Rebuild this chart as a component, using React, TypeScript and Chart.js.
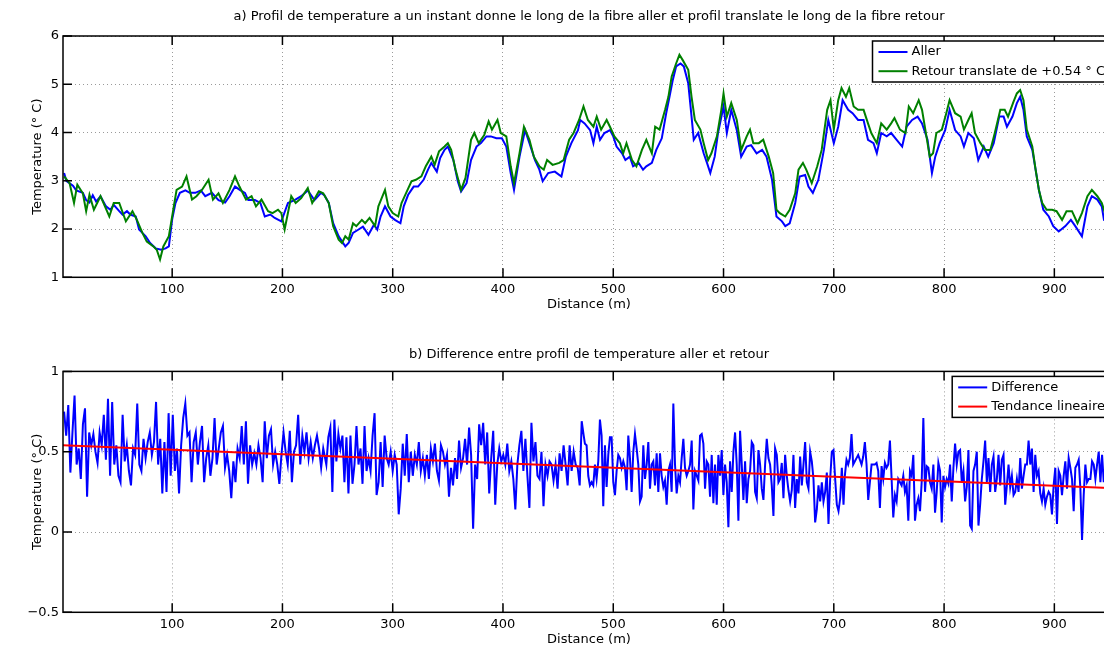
import React, { useEffect, useRef } from "react";
import { Chart, registerables } from "chart.js";

Chart.register(...registerables);

const FONT_FAMILY = '"DejaVu Sans", "Liberation Sans", sans-serif';
Chart.defaults.font.family = FONT_FAMILY;
Chart.defaults.font.size = 13;
Chart.defaults.color = "#000";

const titleTop =
  "a) Profil de temperature a un instant donne le long de la fibre aller et profil translate le long de la fibre retour";
const titleBottom = "b) Difference entre profil de temperature aller et retour";
const xAxisLabel = "Distance (m)";
const yAxisLabel = "Temperature (° C)";
const legendTop = ["Aller", "Retour translate de +0.54 ° C"];
const legendBottom = ["Difference", "Tendance lineaire"];
const colorsTop = ["#0000ff", "#008000"];
const colorsBottom = ["#0000ff", "#ff0000"];

const xRange = [1, 955];
const xTicks = [100, 200, 300, 400, 500, 600, 700, 800, 900];
const yTicksTop = [1, 2, 3, 4, 5, 6];
const yTicksBottom = [-0.5, 0, 0.5, 1];

// a) Aller profile
const allerX = [
  2, 4, 10, 13, 19, 22, 25, 28, 31, 35, 40, 44, 47, 52, 55, 59, 62, 67, 70, 73,
  76, 80, 85, 90, 94, 97, 100, 103, 107, 112, 116, 121, 126, 130, 136, 142, 148, 152, 157, 162,
  166, 169, 175, 180, 184, 189, 193, 199, 205, 211, 217, 223, 229, 235,
  238, 242, 246, 251, 257, 260, 264, 269, 273, 278, 283, 286, 289, 293, 298, 302, 307, 310, 314, 319,
  323, 328, 332, 335, 340, 343, 347, 350, 355, 359, 362, 367, 371, 376, 380, 385, 389, 394, 399, 403,
  407, 410, 415, 420, 424, 429, 433, 436, 441, 447, 453, 457, 462, 468,
  470, 474, 479, 482, 485, 488, 492, 497, 500, 503, 508, 511, 515, 518, 523, 527, 530, 535, 539, 544,
  548, 551, 554, 557, 561, 564, 568, 571, 573, 577, 582, 585, 588, 592, 595, 600, 603, 607, 612, 616,
  621, 625, 630, 635, 639, 644, 648, 653, 656, 660, 665, 669, 674, 677, 681, 686, 691, 695, 700, 704,
  708, 713, 717, 722, 727, 731, 736, 739, 743, 748, 752, 757, 762, 766, 771, 776, 780, 785, 789, 792,
  796, 801, 805, 810, 815, 818, 822, 827, 831, 836, 840, 845, 850, 854, 857, 862, 866, 869, 872, 875,
  880, 883, 886, 890, 895, 899, 904, 910, 915, 919, 925, 930, 934, 939, 943, 945, 950, 954,
];
const allerT = [
  3.16, 3.0, 2.9, 2.8, 2.75, 2.6, 2.55, 2.7, 2.57, 2.68, 2.47, 2.4, 2.5, 2.37, 2.3, 2.37, 2.3, 2.26, 1.99, 1.92,
  1.85, 1.71, 1.6, 1.57, 1.6, 1.64, 2.2, 2.54, 2.75, 2.8, 2.75, 2.75, 2.8, 2.68, 2.75, 2.6, 2.55, 2.68, 2.88, 2.8,
  2.75, 2.6, 2.6, 2.54, 2.26, 2.3, 2.23, 2.16, 2.54, 2.6, 2.68, 2.8, 2.6, 2.75,
  2.7, 2.54, 2.12, 1.85, 1.64, 1.71, 1.92, 1.99, 2.05, 1.88, 2.09, 1.99, 2.26, 2.47, 2.26, 2.19, 2.12, 2.47, 2.71, 2.88,
  2.88, 3.02, 3.23, 3.37, 3.19, 3.47, 3.64, 3.71, 3.43, 2.99, 2.78, 2.95, 3.43, 3.71, 3.78, 3.92, 3.92, 3.88, 3.88, 3.71,
  3.16, 2.81, 3.5, 4.05, 3.78, 3.43, 3.23, 2.99, 3.16, 3.19, 3.09, 3.5, 3.78, 4.05,
  4.26, 4.19, 4.05, 3.78, 4.12, 3.85, 3.99, 4.05, 3.92, 3.71, 3.57, 3.43, 3.5, 3.3, 3.37, 3.23, 3.3, 3.37, 3.64, 3.88,
  4.4, 4.74, 5.09, 5.37, 5.43, 5.37, 5.02, 4.33, 3.85, 3.99, 3.57, 3.37, 3.16, 3.5, 3.99, 4.54, 3.99, 4.47, 4.05, 3.5,
  3.71, 3.74, 3.57, 3.64, 3.5, 3.02, 2.26, 2.16, 2.06, 2.12, 2.54, 3.09, 3.12, 2.88, 2.75, 3.02, 3.64, 4.26, 3.78, 4.12,
  4.67, 4.47, 4.4, 4.26, 4.26, 3.85, 3.78, 3.57, 3.99, 3.92, 3.99, 3.85, 3.71, 4.12, 4.26, 4.33, 4.19, 3.85, 3.16, 3.5,
  3.78, 4.05, 4.47, 4.05, 3.92, 3.71, 3.99, 3.88, 3.43, 3.71, 3.5, 3.78, 4.33, 4.33, 4.12, 4.33, 4.61, 4.74, 4.47, 3.92,
  3.64, 3.23, 2.81, 2.4, 2.26, 2.06, 1.95, 2.06, 2.19, 2.06, 1.85, 2.47, 2.68, 2.61, 2.47, 2.19, 2.1, 2.05,
];

// a) Retour profile, translated by +0.54 °C
const retourX = [
  2, 7, 11, 14, 19, 22, 25, 29, 35, 43, 47, 52, 58, 64, 68, 73, 77, 83, 86, 89,
  92, 97, 101, 104, 109, 113, 118, 122, 127, 133, 137, 142, 146, 152, 157, 161, 167, 172, 176, 181,
  187, 191, 196, 199, 202, 208, 212, 217, 223, 227, 233,
  237, 242, 246, 251, 254, 257, 260, 264, 267, 272, 275, 279, 284, 287, 293, 296, 300, 305, 308, 312,
  317, 321, 326, 330, 335, 338, 342, 347, 350, 353, 357, 362, 366, 371, 374, 378, 383, 387, 390, 395,
  398, 403, 407, 410, 415, 419, 424, 428, 433, 437, 440, 445, 451, 455, 460, 464, 469, 473,
  477, 482, 485, 489, 494, 497, 501, 506, 509, 512, 517, 521, 526, 530, 535, 538, 542, 547, 550, 553,
  557, 560, 563, 568, 571, 574, 579, 582, 586, 589, 594, 598, 600, 603, 607, 612, 616, 621, 624, 627,
  632, 636, 641, 645, 648, 651, 656, 660, 665, 668, 672, 675, 680, 685, 689, 694, 697, 700, 704, 707,
  711, 714, 718, 722, 727, 731, 734, 739, 743, 748, 752, 755, 760, 765, 768, 772, 777, 780, 783, 787,
  790, 793, 798, 802, 805, 810, 815, 818, 822, 825, 828, 833, 837, 842, 846, 851, 855, 858, 863, 866,
  869, 872, 875, 880, 883, 886, 889, 893, 898, 902, 907, 911, 916, 921, 925, 930, 934, 939, 943, 946,
  950, 955,
];
const retourT = [
  3.09, 2.95, 2.54, 2.92, 2.74, 2.37, 2.71, 2.4, 2.68, 2.26, 2.54, 2.54, 2.16, 2.37, 2.19, 1.92, 1.74, 1.64, 1.57, 1.37,
  1.64, 1.85, 2.4, 2.81, 2.88, 3.09, 2.61, 2.68, 2.81, 3.02, 2.61, 2.74, 2.54, 2.81, 3.09, 2.88, 2.61, 2.68, 2.47, 2.61,
  2.37, 2.33, 2.4, 2.33, 1.99, 2.68, 2.54, 2.64, 2.85, 2.54, 2.78,
  2.74, 2.54, 2.06, 1.78, 1.71, 1.85, 1.78, 2.12, 2.06, 2.19, 2.12, 2.23, 2.06, 2.47, 2.81, 2.47, 2.33, 2.26, 2.54, 2.74,
  2.99, 3.02, 3.09, 3.3, 3.5, 3.33, 3.61, 3.71, 3.78, 3.64, 3.23, 2.81, 3.06, 3.85, 3.99, 3.78, 3.95, 4.23, 4.06, 4.26,
  3.99, 3.92, 3.3, 2.95, 3.57, 4.12, 3.85, 3.5, 3.3, 3.23, 3.43, 3.33, 3.37, 3.43, 3.85, 3.99, 4.26, 4.54,
  4.26, 4.12, 4.33, 4.06, 4.26, 4.12, 3.92, 3.78, 3.57, 3.78, 3.43, 3.3, 3.64, 3.85, 3.57, 4.12, 4.06, 4.47, 4.74, 5.16,
  5.43, 5.61, 5.5, 5.3, 4.74, 4.26, 4.06, 3.78, 3.43, 3.57, 3.92, 4.47, 4.81, 4.33, 4.61, 4.26, 3.64, 3.92, 4.06, 3.78,
  3.78, 3.85, 3.5, 3.16, 2.4, 2.33, 2.26, 2.4, 2.74, 3.23, 3.37, 3.23, 2.95, 3.3, 3.64, 4.47, 4.67, 4.06, 4.67, 4.92,
  4.74, 4.92, 4.54, 4.47, 4.47, 4.19, 3.99, 3.78, 4.19, 4.06, 4.19, 4.3, 4.06, 3.99, 4.54, 4.4, 4.67, 4.47, 4.06, 3.5,
  3.57, 3.99, 4.06, 4.4, 4.67, 4.4, 4.33, 4.06, 4.26, 4.4, 3.99, 3.78, 3.64, 3.64, 3.99, 4.47, 4.47, 4.33, 4.64, 4.81,
  4.88, 4.67, 4.06, 3.71, 3.23, 2.81, 2.54, 2.4, 2.4, 2.37, 2.19, 2.37, 2.37, 2.12, 2.33, 2.68, 2.81, 2.68, 2.54, 2.33,
  2.25, 2.2,
];

// b) Difference aller - retour, sampled evenly within each distance range
const diffRanges = [
  [2, 237],
  [239.8, 473.2],
  [474.3, 708.8],
  [710, 944.8],
  [946.5, 955],
];
const diffA = [
  0.75, 0.6, 0.79, 0.37, 0.62, 0.85, 0.42, 0.52, 0.33, 0.67,
  0.77, 0.22, 0.62, 0.54, 0.61, 0.5, 0.43, 0.62, 0.54, 0.73,
  0.45, 0.83, 0.35, 0.81, 0.42, 0.54, 0.35, 0.31, 0.73, 0.44,
  0.54, 0.38, 0.29, 0.52, 0.48, 0.8, 0.42, 0.38, 0.58, 0.46,
  0.56, 0.62, 0.48, 0.56, 0.81, 0.42, 0.58, 0.24, 0.56, 0.25,
  0.74, 0.35, 0.73, 0.38, 0.52, 0.24, 0.54, 0.71, 0.8, 0.6,
  0.62, 0.31, 0.56, 0.62, 0.42, 0.56, 0.66, 0.31, 0.46, 0.54,
  0.35, 0.46, 0.71, 0.42, 0.52, 0.62, 0.66, 0.4, 0.48, 0.38,
  0.21, 0.44, 0.31, 0.52, 0.46, 0.66, 0.42, 0.69, 0.3, 0.54,
  0.42, 0.49, 0.42, 0.54, 0.46, 0.31, 0.69, 0.46, 0.6, 0.64,
  0.42, 0.5, 0.42, 0.3, 0.48, 0.62, 0.5, 0.42, 0.63, 0.31,
  0.5, 0.54, 0.73, 0.42, 0.6, 0.5, 0.62, 0.46, 0.56, 0.46,
  0.54, 0.6, 0.52, 0.4, 0.52,
];
const diffB = [
  0.42, 0.59, 0.65, 0.25, 0.7, 0.44, 0.61, 0.52, 0.6, 0.31,
  0.59, 0.24, 0.6, 0.3, 0.42, 0.66, 0.42, 0.52, 0.3, 0.66,
  0.38, 0.46, 0.38, 0.6, 0.74, 0.23, 0.31, 0.56, 0.28, 0.6,
  0.46, 0.42, 0.5, 0.38, 0.48, 0.42, 0.11, 0.27, 0.55, 0.35,
  0.61, 0.31, 0.5, 0.35, 0.48, 0.42, 0.56, 0.38, 0.46, 0.35,
  0.48, 0.33, 0.52, 0.44, 0.55, 0.38, 0.32, 0.54, 0.5, 0.42,
  0.48, 0.22, 0.4, 0.29, 0.46, 0.33, 0.57, 0.4, 0.46, 0.58,
  0.42, 0.65, 0.48, 0.02, 0.42, 0.33, 0.67, 0.54, 0.68, 0.42,
  0.62, 0.24, 0.46, 0.63, 0.17, 0.42, 0.52, 0.44, 0.48, 0.42,
  0.55, 0.38, 0.44, 0.33, 0.14, 0.42, 0.54, 0.63, 0.38, 0.58,
  0.35, 0.15, 0.68, 0.44, 0.56, 0.35, 0.33, 0.5, 0.16, 0.42,
  0.35, 0.44, 0.42, 0.32, 0.42, 0.27, 0.49, 0.38, 0.54, 0.42,
  0.29, 0.54, 0.38, 0.5, 0.42, 0.4, 0.29, 0.69, 0.6,
];
const diffC = [
  0.55, 0.54, 0.35, 0.29, 0.31, 0.29, 0.42, 0.33, 0.44, 0.7,
  0.6, 0.16, 0.54, 0.28, 0.48, 0.59, 0.59, 0.31, 0.23, 0.38,
  0.48, 0.46, 0.4, 0.44, 0.4, 0.26, 0.6, 0.46, 0.25, 0.5,
  0.61, 0.52, 0.42, 0.19, 0.22, 0.54, 0.33, 0.42, 0.56, 0.27,
  0.42, 0.44, 0.29, 0.49, 0.25, 0.49, 0.35, 0.28, 0.32, 0.17,
  0.38, 0.42, 0.25, 0.8, 0.42, 0.24, 0.35, 0.31, 0.46, 0.58,
  0.4, 0.35, 0.38, 0.42, 0.57, 0.14, 0.38, 0.35, 0.32, 0.6,
  0.61, 0.55, 0.27, 0.44, 0.42, 0.22, 0.48, 0.18, 0.42, 0.17,
  0.48, 0.35, 0.51, 0.23, 0.42, 0.31, 0.03, 0.44, 0.25, 0.5,
  0.62, 0.42, 0.07, 0.63, 0.42, 0.2, 0.44, 0.18, 0.33, 0.38,
  0.56, 0.54, 0.25, 0.21, 0.51, 0.42, 0.27, 0.2, 0.42, 0.58,
  0.46, 0.42, 0.29, 0.1, 0.52, 0.48, 0.31, 0.33, 0.43, 0.21,
  0.48, 0.35, 0.26, 0.19, 0.26, 0.48, 0.15, 0.33, 0.24, 0.47,
  0.29, 0.42, 0.56, 0.31, 0.27, 0.5, 0.44, 0.33, 0.06, 0.14,
  0.29, 0.19, 0.31, 0.19, 0.25, 0.37, 0.05, 0.33, 0.5, 0.51,
  0.33, 0.17, 0.13, 0.21, 0.4, 0.17,
];
const diffD = [
  0.35, 0.45, 0.42, 0.46, 0.61, 0.42, 0.44, 0.46, 0.48, 0.45,
  0.42, 0.47, 0.56, 0.42, 0.2, 0.31, 0.42, 0.42, 0.42, 0.43,
  0.38, 0.15, 0.41, 0.33, 0.43, 0.4, 0.42, 0.57, 0.33, 0.09,
  0.23, 0.19, 0.33, 0.31, 0.29, 0.35, 0.25, 0.29, 0.07, 0.38,
  0.35, 0.48, 0.07, 0.17, 0.21, 0.13, 0.31, 0.71, 0.25, 0.41,
  0.4, 0.31, 0.27, 0.42, 0.12, 0.25, 0.43, 0.38, 0.06, 0.35,
  0.28, 0.33, 0.3, 0.42, 0.19, 0.4, 0.55, 0.42, 0.5, 0.51,
  0.31, 0.38, 0.19, 0.28, 0.51, 0.04, 0.02, 0.38, 0.42, 0.5,
  0.04, 0.17, 0.33, 0.44, 0.57, 0.31, 0.46, 0.25, 0.42, 0.47,
  0.25, 0.33, 0.48, 0.29, 0.45, 0.48, 0.17, 0.29, 0.42, 0.28,
  0.35, 0.23, 0.25, 0.33, 0.25, 0.46, 0.27, 0.35, 0.42, 0.42,
  0.57, 0.42, 0.52, 0.25, 0.48, 0.35, 0.38, 0.24, 0.19, 0.27,
  0.17, 0.22, 0.25, 0.23, 0.11, 0.29, 0.4, 0.05, 0.38, 0.35,
  0.23, 0.35, 0.44, 0.27, 0.46, 0.4, 0.33, 0.13, 0.4, 0.42,
  0.45, 0.27, -0.05, 0.23, 0.42, 0.31, 0.33, 0.33, 0.44, 0.42,
  0.33, 0.42, 0.5, 0.31, 0.48, 0.31,
];
const diffE = [0.4, 0.36, 0.46, 0.38, 0.42];
const diffSegments = [diffA, diffB, diffC, diffD, diffE];

// b) Linear trend end points
const trendX = [1, 955];
const trendY = [0.54, 0.273];

function toPoints(xs: number[], ys: number[]) {
  return xs.map((x, i) => ({ x, y: ys[i] }));
}

function diffPoints() {
  const pts: { x: number; y: number }[] = [];
  diffSegments.forEach((seg, s) => {
    const [a, b] = diffRanges[s];
    seg.forEach((v, i) => {
      const x = seg.length > 1 ? a + ((b - a) * i) / (seg.length - 1) : a;
      pts.push({ x, y: v });
    });
  });
  return pts;
}

function framePlugin(labels: string[], colors: string[]) {
  return {
    id: "matlabFrame",
    afterDraw(chart: any) {
      const { ctx, chartArea } = chart;
      const { left, right, top, bottom } = chartArea;
      const xs = chart.scales.x;
      const ys = chart.scales.y;
      ctx.save();
      ctx.strokeStyle = "#000";
      ctx.lineWidth = 1.5;
      ctx.setLineDash([]);
      const tl = 9;
      ctx.beginPath();
      xs.ticks.forEach((t: any) => {
        const px = xs.getPixelForValue(t.value);
        ctx.moveTo(px, bottom);
        ctx.lineTo(px, bottom - tl);
        ctx.moveTo(px, top);
        ctx.lineTo(px, top + tl);
      });
      ys.ticks.forEach((t: any) => {
        const py = ys.getPixelForValue(t.value);
        ctx.moveTo(left, py);
        ctx.lineTo(left + tl, py);
        ctx.moveTo(right, py);
        ctx.lineTo(right - tl, py);
      });
      ctx.stroke();
      ctx.strokeRect(left, top, right - left, bottom - top);

      // legend box (MATLAB NorthEast style)
      ctx.font = `13px ${FONT_FAMILY}`;
      const textW = Math.max(...labels.map((l) => ctx.measureText(l).width));
      const w = 39 + textW + 5;
      const h = 41;
      const bx = right - 5 - w;
      const by = top + 5;
      ctx.fillStyle = "#fff";
      ctx.fillRect(bx, by, w, h);
      ctx.strokeStyle = "#000";
      ctx.lineWidth = 1.5;
      ctx.strokeRect(bx, by, w, h);
      labels.forEach((l, i) => {
        const ly = by + 11 + i * 19.2;
        ctx.strokeStyle = colors[i];
        ctx.lineWidth = 2;
        ctx.beginPath();
        ctx.moveTo(bx + 6, ly);
        ctx.lineTo(bx + 35, ly);
        ctx.stroke();
        ctx.fillStyle = "#000";
        ctx.textAlign = "left";
        ctx.textBaseline = "middle";
        ctx.fillText(l, bx + 39, ly);
      });
      ctx.restore();
    },
  };
}

function scales(yTicks: number[], xHeight: number, xTitleBottom: number) {
  const grid = { color: "#9a9a9a", lineWidth: 1, drawTicks: false };
  const border = { display: false, dash: [1, 3] };
  return {
    x: {
      type: "linear",
      min: xRange[0],
      max: xRange[1],
      afterBuildTicks: (s: any) => {
        s.ticks = xTicks.map((value) => ({ value }));
      },
      afterFit: (s: any) => {
        s.height = xHeight;
      },
      ticks: {
        padding: 4.9,
        maxRotation: 0,
        autoSkip: false,
        color: "#000",
        callback: (v: any) => String(v),
      },
      grid,
      border,
      title: {
        display: true,
        text: xAxisLabel,
        color: "#000",
        padding: { top: 0, bottom: xTitleBottom },
      },
    },
    y: {
      type: "linear",
      min: yTicks[0],
      max: yTicks[yTicks.length - 1],
      afterBuildTicks: (s: any) => {
        s.ticks = yTicks.map((value) => ({ value }));
      },
      afterFit: (s: any) => {
        s.width = 63;
      },
      ticks: {
        padding: 4,
        autoSkip: false,
        color: "#000",
        callback: (v: any) => (v < 0 ? "\u2212" + String(Math.abs(v)) : String(v)),
      },
      grid,
      border,
      title: {
        display: true,
        text: yAxisLabel,
        color: "#000",
        padding: { top: 30.2, bottom: 0 },
      },
    },
  };
}

export default function App() {
  const topRef = useRef<HTMLCanvasElement>(null);
  const botRef = useRef<HTMLCanvasElement>(null);

  useEffect(() => {
    const common = {
      animation: false,
      responsive: false,
      events: [],
      layout: { padding: 0 },
      elements: { point: { radius: 0 }, line: { tension: 0, borderWidth: 2 } },
    };
    const topChart = new Chart(topRef.current as HTMLCanvasElement, {
      type: "line",
      data: {
        datasets: [
          {
            label: legendTop[0],
            data: toPoints(allerX, allerT),
            borderColor: colorsTop[0],
            borderWidth: 2,
            pointRadius: 0,
            order: 1,
          },
          {
            label: legendTop[1],
            data: toPoints(retourX, retourT),
            borderColor: colorsTop[1],
            borderWidth: 2,
            pointRadius: 0,
            order: 0,
          },
        ],
      },
      options: {
        ...common,
        plugins: {
          legend: { display: false },
          tooltip: { enabled: false },
          title: {
            display: true,
            fullSize: false,
            text: titleTop,
            color: "#000",
            font: { size: 13, weight: "normal" },
            padding: { top: 9.2, bottom: 11.2 },
          },
        },
        scales: scales(yTicksTop, 52.7, 17.9),
      } as any,
      plugins: [framePlugin(legendTop, colorsTop)],
    });

    const botChart = new Chart(botRef.current as HTMLCanvasElement, {
      type: "line",
      data: {
        datasets: [
          {
            label: legendBottom[0],
            data: diffPoints(),
            borderColor: colorsBottom[0],
            borderWidth: 2,
            pointRadius: 0,
            order: 1,
          },
          {
            label: legendBottom[1],
            data: toPoints(trendX, trendY),
            borderColor: colorsBottom[1],
            borderWidth: 2,
            pointRadius: 0,
            order: 0,
          },
        ],
      },
      options: {
        ...common,
        plugins: {
          legend: { display: false },
          tooltip: { enabled: false },
          title: {
            display: true,
            fullSize: false,
            text: titleBottom,
            color: "#000",
            font: { size: 13, weight: "normal" },
            padding: { top: 17.2, bottom: 8.6 },
          },
        },
        scales: scales(yTicksBottom, 47.7, 12.9),
      } as any,
      plugins: [framePlugin(legendBottom, colorsBottom)],
    });

    return () => {
      topChart.destroy();
      botChart.destroy();
    };
  }, []);

  return (
    <div
      style={{
        position: "absolute",
        left: 0,
        top: 0,
        width: 1104,
        height: 646,
        overflow: "hidden",
        background: "#fff",
      }}
    >
      <canvas
        ref={topRef}
        width={1115}
        height={330}
        style={{ position: "absolute", left: 0, top: 0, width: 1115, height: 330 }}
      />
      <canvas
        ref={botRef}
        width={1115}
        height={330}
        style={{ position: "absolute", left: 0, top: 330, width: 1115, height: 330 }}
      />
    </div>
  );
}
